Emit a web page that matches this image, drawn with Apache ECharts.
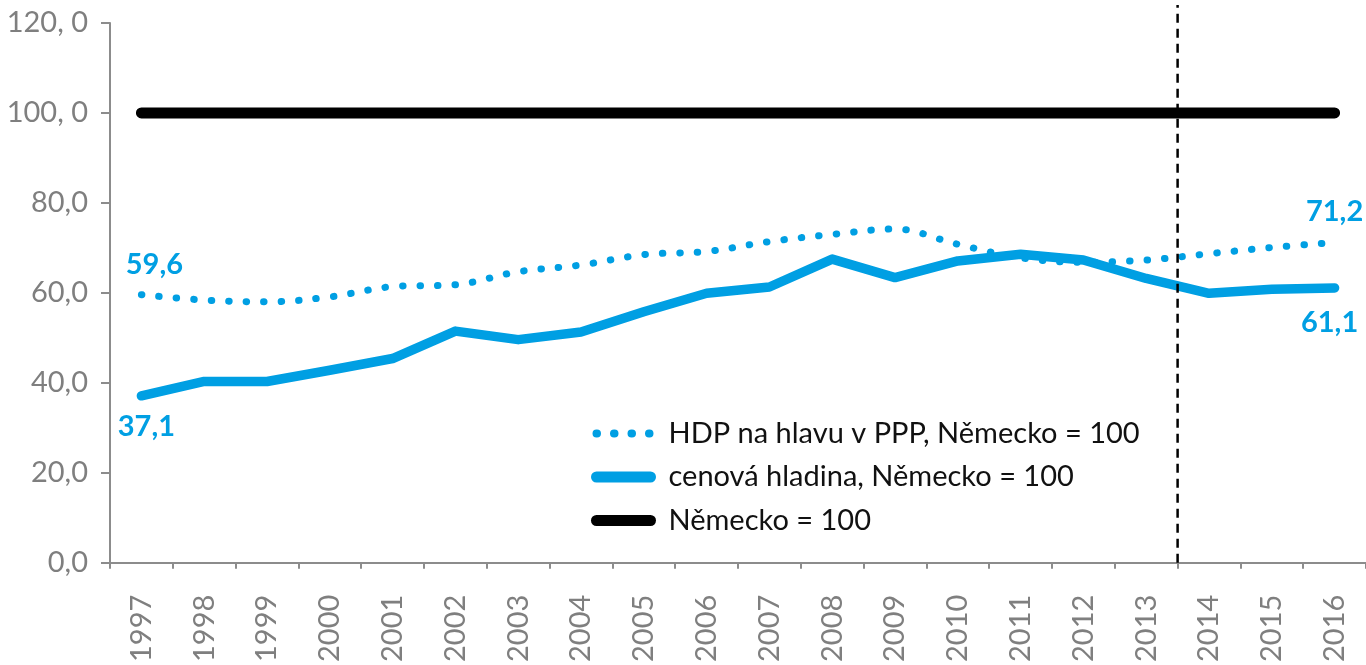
<!DOCTYPE html>
<html>
<head>
<meta charset="utf-8">
<script src="https://cdn.jsdelivr.net/npm/echarts@6/dist/echarts.min.js"></script>
<style>
  html, body { margin: 0; padding: 0; background: #fff; }
  #chart { width: 1366px; height: 665px; }
</style>
</head>
<body>
<div id="chart"></div>
<script>
// roky
let years = ['1997', '1998', '1999', '2000', '2001', '2002', '2003', '2004', '2005', '2006',
  '2007', '2008', '2009', '2010', '2011', '2012', '2013', '2014', '2015', '2016']
// HDP na hlavu v PPP, Německo = 100
let hdp = [59.6, 58.4, 58.0, 59.1, 61.4, 61.8, 64.7, 66.2, 68.5, 69.2,
  71.4, 73.0, 74.2, 70.8, 67.8, 66.8, 67.3, 68.7, 70.1, 71.2]
// cenová hladina, Německo = 100
let ceny = [37.1, 40.3, 40.3, 42.8, 45.4, 51.5, 49.6, 51.3, 55.8, 59.9,
  61.3, 67.5, 63.4, 67.1, 68.6, 67.3, 63.2, 59.9, 60.8, 61.1]
// Německo = 100
let nemecko = [100, 100, 100, 100, 100, 100, 100, 100, 100, 100,
  100, 100, 100, 100, 100, 100, 100, 100, 100, 100]
let yTickLabels = ['0,0', '20,0', '40,0', '60,0', '80,0', '100, 0', '120, 0']
let dividerAfter = '2013' // svislá čára za tímto rokem
let seriesNames = ['HDP na hlavu v PPP, Německo = 100', 'cenová hladina, Německo = 100', 'Německo = 100']

let blue = '#009fe3'
let gray = '#7f7f7f'
let font = 'Lato'

let fmt = v => v.toFixed(1).replace('.', ',')

// popisky u prvního a posledního bodu (markPoint bez symbolu)
function endLabels (arr, pos, offsets) {
  let last = arr.length - 1
  return {
    symbol: 'circle',
    symbolSize: 0,
    silent: true,
    label: {
      show: true,
      position: pos,
      distance: 16,
      color: blue,
      fontFamily: font,
      fontWeight: 'bold',
      fontSize: 29,
      formatter: p => fmt(p.value),
    },
    data: [
      { coord: [0, arr[0]], value: arr[0], label: { offset: offsets[0] } },
      { coord: [last, arr[last]], value: arr[last], label: { offset: offsets[1] } },
    ],
  }
}

let dividerIdx = years.indexOf(dividerAfter) + 1

// v legendě jen čára, bez kolečka uprostřed
let noSymbol = { opacity: 0 }

let myChart = echarts.init(document.getElementById('chart'))
myChart.setOption({
  animation: false,
  grid: {
    left: 110,
    right: 0,
    top: 23,
    bottom: 102,
    containLabel: false,
  },
  legend: {
    orient: 'vertical',
    left: 591,
    top: 419,
    padding: 0,
    itemWidth: 54,
    itemHeight: 11,
    itemGap: 14.5,
    textStyle: {
      fontFamily: font,
      fontSize: 29,
      color: '#111',
      padding: [0, 0, 0, 13],
    },
    data: [
      { name: seriesNames[0], itemStyle: noSymbol, lineStyle: { width: 8, type: [0.5, 17], cap: 'round', color: blue } },
      { name: seriesNames[1], itemStyle: noSymbol, lineStyle: { width: 11, cap: 'round', color: blue } },
      { name: seriesNames[2], itemStyle: noSymbol, lineStyle: { width: 11, cap: 'round', color: '#000' } },
    ],
  },
  xAxis: [
    {
      type: 'category',
      data: years,
      boundaryGap: true,
      axisLine: { lineStyle: { color: '#8c8c8c', width: 2 } },
      axisTick: { show: true, length: 6, lineStyle: { color: '#8c8c8c', width: 2 } },
      axisLabel: {
        rotate: 90,
        margin: 32,
        color: gray,
        fontFamily: font,
        fontSize: 29,
      },
      splitLine: { show: false },
    },
    {
      // pomocná osa pro svislou čáru mezi roky
      type: 'value',
      min: 0,
      max: years.length,
      show: false,
    },
  ],
  yAxis: {
    type: 'value',
    min: 0,
    max: 120,
    interval: 20,
    axisLine: { show: true, lineStyle: { color: '#8c8c8c', width: 2 } },
    axisTick: { show: true, length: 9, lineStyle: { color: '#8c8c8c', width: 2 } },
    axisLabel: {
      margin: 22,
      color: gray,
      fontFamily: font,
      fontSize: 29,
      formatter: v => yTickLabels[v / 20],
    },
    splitLine: { show: false },
  },
  series: [
    {
      name: seriesNames[0],
      type: 'line',
      data: hdp,
      smooth: 0.35,
      symbol: 'none',
      z: 3,
      lineStyle: { color: blue, width: 7, type: [0.5, 17], cap: 'round' },
      itemStyle: { color: blue },
      markPoint: endLabels(hdp, 'top', [[13, 0], [0, 0]]),
    },
    {
      name: seriesNames[1],
      type: 'line',
      data: ceny,
      symbol: 'none',
      z: 4,
      lineStyle: { color: blue, width: 9.5, cap: 'round', join: 'round' },
      itemStyle: { color: blue },
      markPoint: endLabels(ceny, 'bottom', [[5, 0], [-5, 4]]),
    },
    {
      name: seriesNames[2],
      type: 'line',
      data: nemecko,
      symbol: 'none',
      z: 5,
      lineStyle: { color: '#000', width: 11, cap: 'round' },
      itemStyle: { color: '#000' },
    },
    {
      // svislá přerušovaná čára
      type: 'line',
      xAxisIndex: 1,
      data: [[dividerIdx, 0], [dividerIdx, 124]],
      symbol: 'none',
      clip: false,
      silent: true,
      z: 6,
      lineStyle: { color: '#000', width: 2.5, type: [9, 6] },
    },
  ],
})
</script>
</body>
</html>
